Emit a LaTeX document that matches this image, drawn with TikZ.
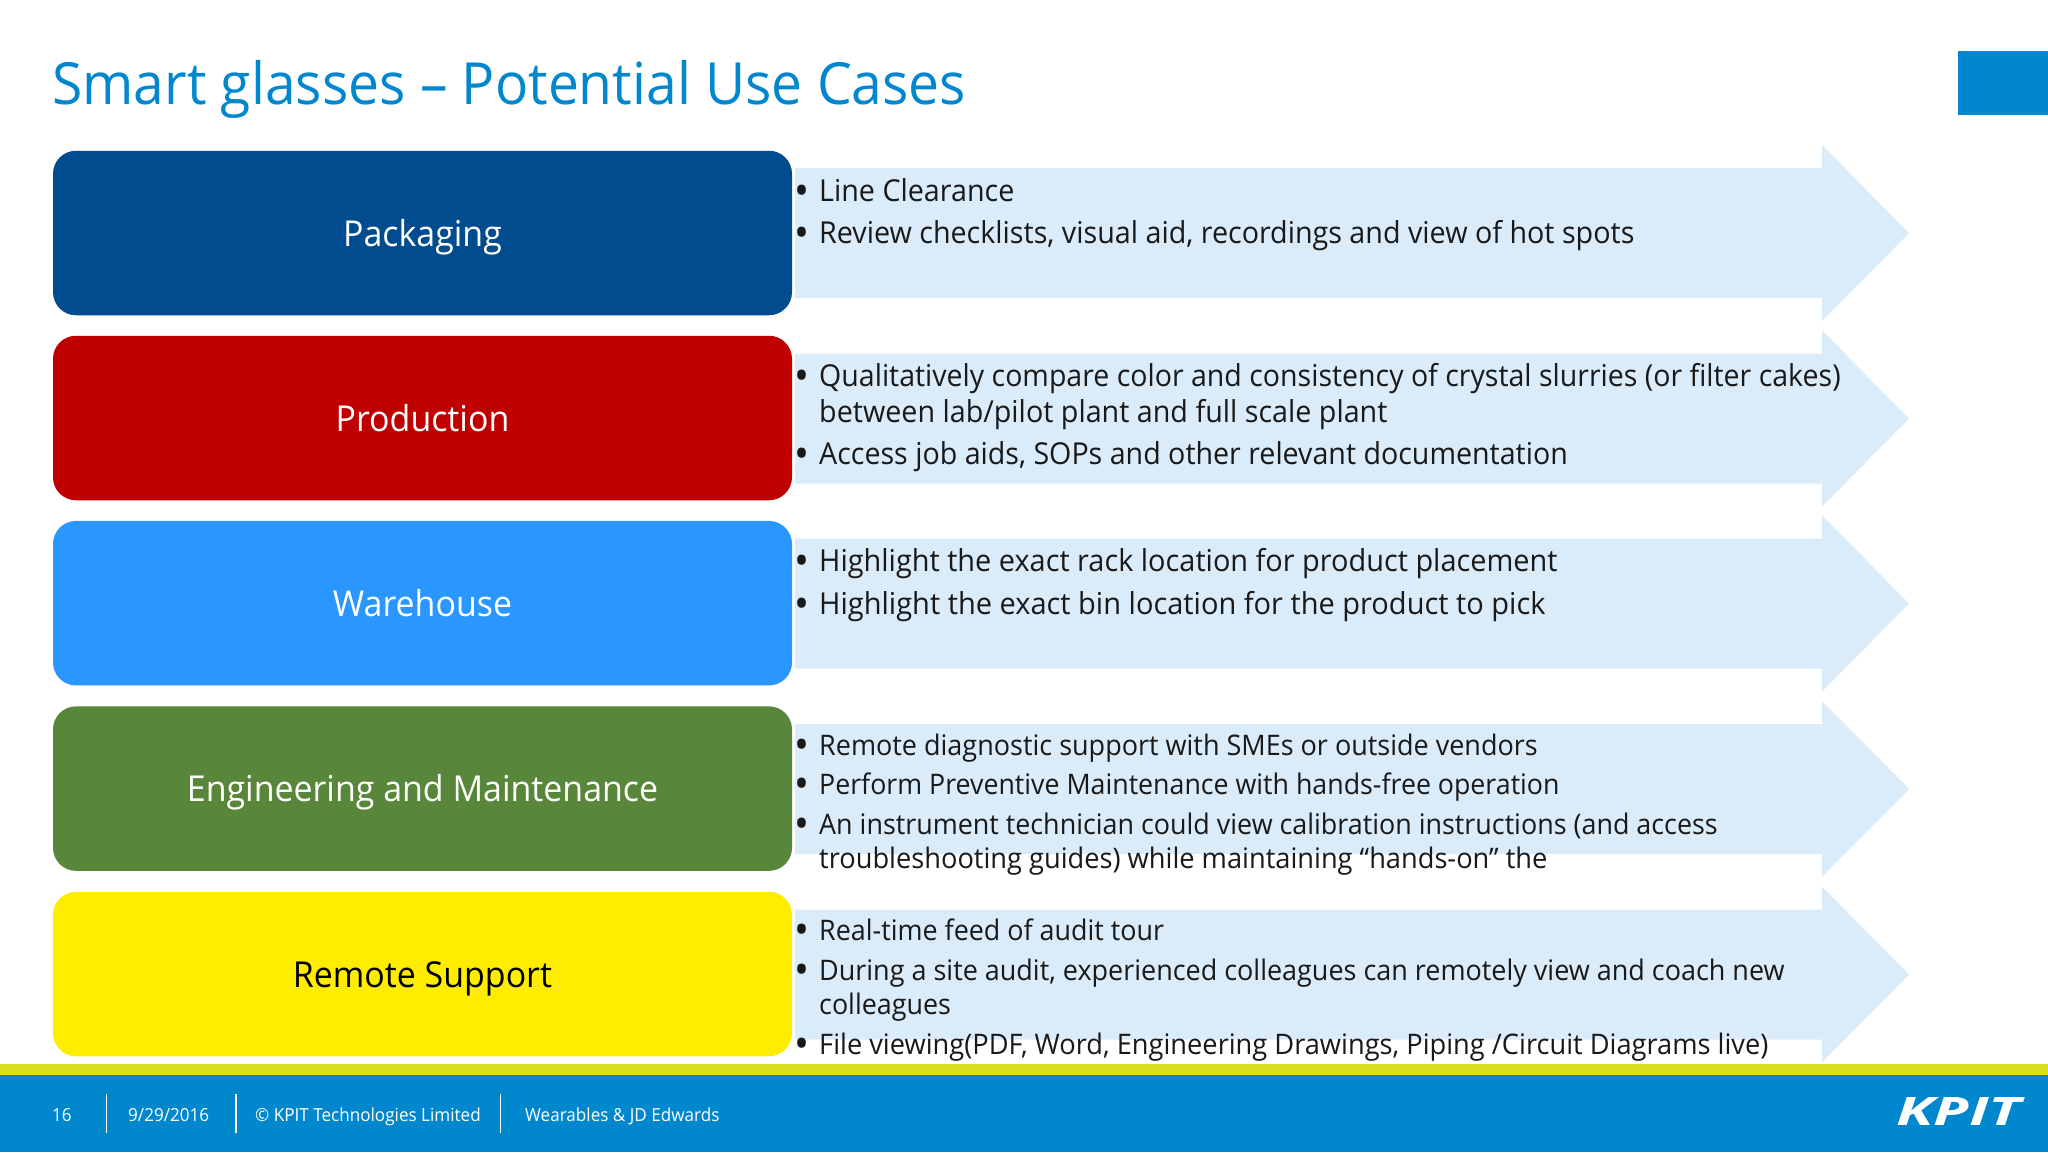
\documentclass[tikz,border=0pt]{standalone}
\usepackage{fontspec}
\setmainfont{Open Sans}[FakeStretch=0.95]
\definecolor{kblue}{HTML}{0087CD}
\definecolor{klime}{HTML}{D9E021}
\definecolor{karrow}{HTML}{DAEBF9}
\definecolor{c1}{HTML}{004C8F}
\definecolor{c2}{HTML}{C00000}
\definecolor{c3}{HTML}{2A96FF}
\definecolor{c4}{HTML}{58863A}
\definecolor{c5}{HTML}{FFED00}
\newcommand{\pxfont}[1]{\fontsize{#1}{#1}\selectfont}
\newcommand{\fitx}[2]{\scalebox{#1}[1]{#2}}
\tikzset{
  x=1pt,y=-1pt,
  rowbox/.style={rounded corners=23pt,minimum width=739pt,minimum height=164.5pt,inner sep=0pt,font=\pxfont{35.7},anchor=center,text height=26pt,text depth=0pt},
  rowarrow/.style={fill=karrow,draw=none},
  big/.style={anchor=base west,inner sep=0pt,font=\pxfont{30.2},text=black!90},
  small/.style={anchor=base west,inner sep=0pt,font=\pxfont{28.3},text=black!90},
  bul/.style={anchor=base west,inner sep=0pt,font=\pxfont{42},text=black!90,yshift=-4pt,xshift=-3pt},
  foot/.style={anchor=base west,inner sep=0pt,font=\pxfont{18},text=white},
  footsep/.style={draw=white,line width=1.3pt},
}
\newcommand{\rowshape}[1]{\fill[rowarrow] (795,#1-65) -- (1822,#1-65) -- (1822,#1-88) -- (1909,#1) -- (1822,#1+88) -- (1822,#1+65) -- (795,#1+65) -- cycle;}
\begin{document}
\begin{tikzpicture}
\useasboundingbox (0,0) rectangle (2048,1152);
\fill[white] (0,0) rectangle (2048,1152);
\node[anchor=base west,inner sep=0pt,font=\pxfont{58.1},text=kblue] (title) at (52,104) {Smart glasses – Potential Use Cases};
\fill[kblue] (1958,51) rectangle (2048,115);
% arrows
\rowshape{233}\rowshape{418.5}\rowshape{603.5}\rowshape{789}\rowshape{974.5}
% boxes
\node[rowbox,fill=c1,text=white] (packaging) at (422.5,233) {Packaging};
\node[rowbox,fill=c2,text=white] (production) at (422.5,418) {Production};
\node[rowbox,fill=c3,text=white] (warehouse) at (422.5,603.2) {Warehouse};
\node[rowbox,fill=c4,text=white] (engineering) at (422.5,788.6) {Engineering and Maintenance};
\node[rowbox,fill=c5,text=black] (remote) at (422.5,974) {Remote Support};
% row 1
\node[bul] (b1) at (797,201) {•}; \node[big] (t1) at (819,201) {Line Clearance};
\node[bul] (b2) at (797,243) {•}; \node[big] (t2) at (819,243) {Review checklists, visual aid, recordings and view of hot spots};
% row 2
\node[bul] (b3) at (797,386) {•}; \node[big] (t3) at (819,386) {\fitx{0.994}{Qualitatively compare color and consistency of crystal slurries (or filter cakes)}};
\node[big] (t4) at (819,422) {between lab/pilot plant and full scale plant};
\node[bul] (b5) at (797,464) {•}; \node[big] (t5) at (819,464) {\fitx{0.997}{Access job aids, SOPs and other relevant documentation}};
% row 3
\node[bul] (b6) at (797,571) {•}; \node[big] (t6) at (819,571) {\fitx{1.007}{Highlight the exact rack location for product placement}};
\node[bul] (b7) at (797,614) {•}; \node[big] (t7) at (819,614) {\fitx{1.0108}{Highlight the exact bin location for the product to pick}};
% row 4
\node[bul] (b8) at (797,755) {•}; \node[small] (t8) at (819,755) {\fitx{1.004}{Remote diagnostic support with SMEs or outside vendors}};
\node[bul] (b9) at (797,794) {•}; \node[small] (t9) at (819,794) {\fitx{0.995}{Perform Preventive Maintenance with hands-free operation}};
\node[bul] (b10) at (797,834) {•}; \node[small] (t10) at (819,834) {An instrument technician could view calibration instructions (and access};
\node[small] (t11) at (819,868) {\fitx{1.0125}{troubleshooting guides) while maintaining “hands-on” the}};
% row 5
\node[bul] (b12) at (797,940) {•}; \node[small] (t12) at (819,940) {Real-time feed of audit tour};
\node[bul] (b13) at (797,980) {•}; \node[small] (t13) at (819,980) {\fitx{1.003}{During a site audit, experienced colleagues can remotely view and coach new}};
\node[small] (t14) at (819,1014) {colleagues};
\node[bul] (b15) at (797,1054) {•}; \node[small] (t15) at (819,1054) {\fitx{1.0125}{File viewing(PDF, Word, Engineering Drawings, Piping /Circuit Diagrams live)}};
% footer
\fill[klime] (0,1064) rectangle (2048,1075);
\fill[kblue] (0,1075) rectangle (2048,1152);
\node[foot] (f1) at (52,1121) {16};
\draw[footsep] (106.5,1094) -- (106.5,1133);
\node[foot] (f2) at (128,1121) {9/29/2016};
\draw[footsep] (236,1094) -- (236,1133);
\node[foot] (f3) at (255,1121) {© KPIT Technologies Limited};
\draw[footsep] (500.5,1094) -- (500.5,1133);
\node[foot] (f4) at (525,1121) {Wearables \& JD Edwards};
\node[anchor=base west,inner sep=0pt,text=white] (logo) at (1896,1125) {\resizebox{125pt}{28pt}{\fontspec{Open Sans}[FakeStretch=1]\bfseries\itshape KPIT}};
\end{tikzpicture}
\end{document}
